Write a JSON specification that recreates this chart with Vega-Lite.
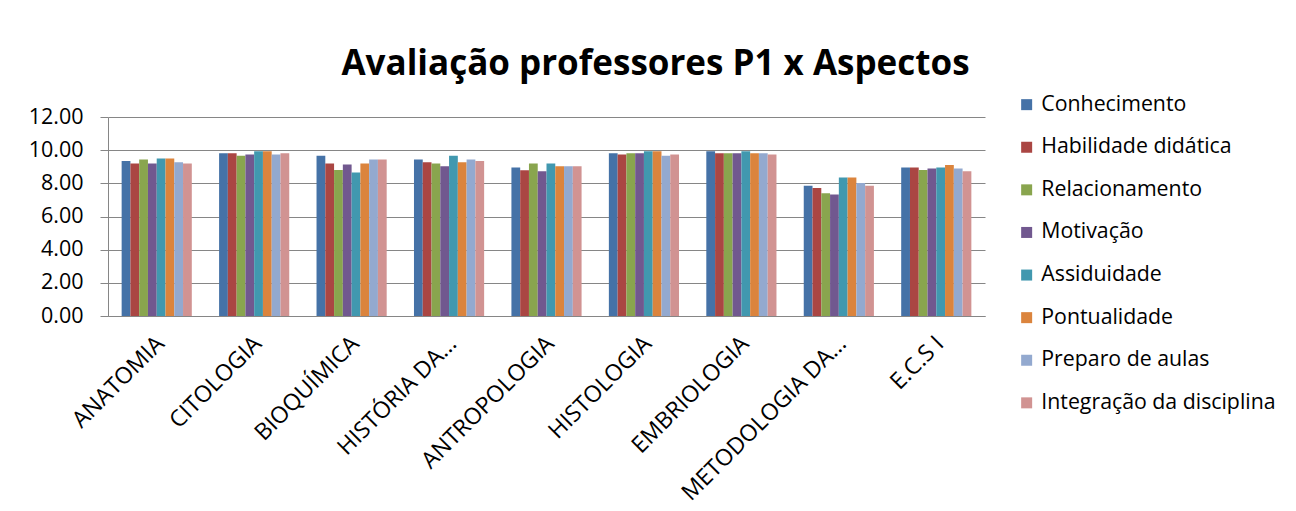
{
  "$schema": "https://vega.github.io/schema/vega-lite/v6.json",
  "autosize": {"type": "none"},
  "width": 877,
  "height": 199,
  "padding": {"left": 108, "top": 117, "right": 311, "bottom": 195},
  "background": "white",
  "config": {
    "font": "Open Sans",
    "view": {"stroke": null},
    "axis": {"labelFont": "Open Sans", "titleFont": "Open Sans"},
    "legend": {"labelFont": "Open Sans"}
  },
  "title": {
    "text": "Avaliação professores P1 x Aspectos",
    "fontSize": 35,
    "fontWeight": "bold",
    "font": "Open Sans",
    "color": "#000000",
    "anchor": "middle",
    "dx": 109,
    "offset": 12
  },
  "datasets": {
    "rows": [
      {"disciplina": "ANATOMIA", "aspecto": "Conhecimento", "nota": 9.35},
      {"disciplina": "ANATOMIA", "aspecto": "Habilidade didática", "nota": 9.19},
      {"disciplina": "ANATOMIA", "aspecto": "Relacionamento", "nota": 9.44},
      {"disciplina": "ANATOMIA", "aspecto": "Motivação", "nota": 9.19},
      {"disciplina": "ANATOMIA", "aspecto": "Assiduidade", "nota": 9.5},
      {"disciplina": "ANATOMIA", "aspecto": "Pontualidade", "nota": 9.5},
      {"disciplina": "ANATOMIA", "aspecto": "Preparo de aulas", "nota": 9.27},
      {"disciplina": "ANATOMIA", "aspecto": "Integração da disciplina", "nota": 9.19},
      {"disciplina": "CITOLOGIA", "aspecto": "Conhecimento", "nota": 9.82},
      {"disciplina": "CITOLOGIA", "aspecto": "Habilidade didática", "nota": 9.82},
      {"disciplina": "CITOLOGIA", "aspecto": "Relacionamento", "nota": 9.66},
      {"disciplina": "CITOLOGIA", "aspecto": "Motivação", "nota": 9.74},
      {"disciplina": "CITOLOGIA", "aspecto": "Assiduidade", "nota": 9.94},
      {"disciplina": "CITOLOGIA", "aspecto": "Pontualidade", "nota": 9.94},
      {"disciplina": "CITOLOGIA", "aspecto": "Preparo de aulas", "nota": 9.74},
      {"disciplina": "CITOLOGIA", "aspecto": "Integração da disciplina", "nota": 9.82},
      {"disciplina": "BIOQUÍMICA", "aspecto": "Conhecimento", "nota": 9.66},
      {"disciplina": "BIOQUÍMICA", "aspecto": "Habilidade didática", "nota": 9.19},
      {"disciplina": "BIOQUÍMICA", "aspecto": "Relacionamento", "nota": 8.81},
      {"disciplina": "BIOQUÍMICA", "aspecto": "Motivação", "nota": 9.13},
      {"disciplina": "BIOQUÍMICA", "aspecto": "Assiduidade", "nota": 8.65},
      {"disciplina": "BIOQUÍMICA", "aspecto": "Pontualidade", "nota": 9.19},
      {"disciplina": "BIOQUÍMICA", "aspecto": "Preparo de aulas", "nota": 9.44},
      {"disciplina": "BIOQUÍMICA", "aspecto": "Integração da disciplina", "nota": 9.44},
      {"disciplina": "HISTÓRIA DA...", "aspecto": "Conhecimento", "nota": 9.44},
      {"disciplina": "HISTÓRIA DA...", "aspecto": "Habilidade didática", "nota": 9.27},
      {"disciplina": "HISTÓRIA DA...", "aspecto": "Relacionamento", "nota": 9.19},
      {"disciplina": "HISTÓRIA DA...", "aspecto": "Motivação", "nota": 9.03},
      {"disciplina": "HISTÓRIA DA...", "aspecto": "Assiduidade", "nota": 9.66},
      {"disciplina": "HISTÓRIA DA...", "aspecto": "Pontualidade", "nota": 9.27},
      {"disciplina": "HISTÓRIA DA...", "aspecto": "Preparo de aulas", "nota": 9.44},
      {"disciplina": "HISTÓRIA DA...", "aspecto": "Integração da disciplina", "nota": 9.35},
      {"disciplina": "ANTROPOLOGIA", "aspecto": "Conhecimento", "nota": 8.95},
      {"disciplina": "ANTROPOLOGIA", "aspecto": "Habilidade didática", "nota": 8.79},
      {"disciplina": "ANTROPOLOGIA", "aspecto": "Relacionamento", "nota": 9.19},
      {"disciplina": "ANTROPOLOGIA", "aspecto": "Motivação", "nota": 8.73},
      {"disciplina": "ANTROPOLOGIA", "aspecto": "Assiduidade", "nota": 9.19},
      {"disciplina": "ANTROPOLOGIA", "aspecto": "Pontualidade", "nota": 9.03},
      {"disciplina": "ANTROPOLOGIA", "aspecto": "Preparo de aulas", "nota": 9.03},
      {"disciplina": "ANTROPOLOGIA", "aspecto": "Integração da disciplina", "nota": 9.03},
      {"disciplina": "HISTOLOGIA", "aspecto": "Conhecimento", "nota": 9.82},
      {"disciplina": "HISTOLOGIA", "aspecto": "Habilidade didática", "nota": 9.74},
      {"disciplina": "HISTOLOGIA", "aspecto": "Relacionamento", "nota": 9.82},
      {"disciplina": "HISTOLOGIA", "aspecto": "Motivação", "nota": 9.82},
      {"disciplina": "HISTOLOGIA", "aspecto": "Assiduidade", "nota": 9.94},
      {"disciplina": "HISTOLOGIA", "aspecto": "Pontualidade", "nota": 9.94},
      {"disciplina": "HISTOLOGIA", "aspecto": "Preparo de aulas", "nota": 9.66},
      {"disciplina": "HISTOLOGIA", "aspecto": "Integração da disciplina", "nota": 9.74},
      {"disciplina": "EMBRIOLOGIA", "aspecto": "Conhecimento", "nota": 9.94},
      {"disciplina": "EMBRIOLOGIA", "aspecto": "Habilidade didática", "nota": 9.82},
      {"disciplina": "EMBRIOLOGIA", "aspecto": "Relacionamento", "nota": 9.82},
      {"disciplina": "EMBRIOLOGIA", "aspecto": "Motivação", "nota": 9.82},
      {"disciplina": "EMBRIOLOGIA", "aspecto": "Assiduidade", "nota": 9.94},
      {"disciplina": "EMBRIOLOGIA", "aspecto": "Pontualidade", "nota": 9.82},
      {"disciplina": "EMBRIOLOGIA", "aspecto": "Preparo de aulas", "nota": 9.82},
      {"disciplina": "EMBRIOLOGIA", "aspecto": "Integração da disciplina", "nota": 9.74},
      {"disciplina": "METODOLOGIA DA...", "aspecto": "Conhecimento", "nota": 7.86},
      {"disciplina": "METODOLOGIA DA...", "aspecto": "Habilidade didática", "nota": 7.72},
      {"disciplina": "METODOLOGIA DA...", "aspecto": "Relacionamento", "nota": 7.4},
      {"disciplina": "METODOLOGIA DA...", "aspecto": "Motivação", "nota": 7.32},
      {"disciplina": "METODOLOGIA DA...", "aspecto": "Assiduidade", "nota": 8.35},
      {"disciplina": "METODOLOGIA DA...", "aspecto": "Pontualidade", "nota": 8.35},
      {"disciplina": "METODOLOGIA DA...", "aspecto": "Preparo de aulas", "nota": 8.02},
      {"disciplina": "METODOLOGIA DA...", "aspecto": "Integração da disciplina", "nota": 7.86},
      {"disciplina": "E.C.S I", "aspecto": "Conhecimento", "nota": 8.95},
      {"disciplina": "E.C.S I", "aspecto": "Habilidade didática", "nota": 8.95},
      {"disciplina": "E.C.S I", "aspecto": "Relacionamento", "nota": 8.81},
      {"disciplina": "E.C.S I", "aspecto": "Motivação", "nota": 8.89},
      {"disciplina": "E.C.S I", "aspecto": "Assiduidade", "nota": 8.95},
      {"disciplina": "E.C.S I", "aspecto": "Pontualidade", "nota": 9.11},
      {"disciplina": "E.C.S I", "aspecto": "Preparo de aulas", "nota": 8.89},
      {"disciplina": "E.C.S I", "aspecto": "Integração da disciplina", "nota": 8.73}
    ]
  },
  "data": {"name": "rows"},
  "mark": {"type": "bar"},
  "encoding": {
    "x": {
      "field": "disciplina",
      "type": "nominal",
      "sort": null,
      "scale": {"paddingInner": 0.28, "paddingOuter": 0.14},
      "axis": {
        "title": null,
        "labelAngle": -45,
        "labelFontSize": 23,
        "labelColor": "#000000",
        "labelPadding": 16,
        "labelOffset": -4,
        "ticks": false,
        "domainColor": "#868686",
        "labelLimit": 300
      }
    },
    "xOffset": {
      "field": "aspecto",
      "type": "nominal",
      "sort": ["Conhecimento", "Habilidade didática", "Relacionamento", "Motivação", "Assiduidade", "Pontualidade", "Preparo de aulas", "Integração da disciplina"],
      "scale": {"paddingInner": 0, "paddingOuter": 0}
    },
    "y": {
      "field": "nota",
      "type": "quantitative",
      "scale": {"domain": [0, 12], "nice": false},
      "axis": {
        "title": null,
        "values": [0, 2, 4, 6, 8, 10, 12],
        "format": ".2f",
        "labelFontSize": 21.5,
        "labelColor": "#000000",
        "labelPadding": 17,
        "tickSize": 8,
        "tickColor": "#868686",
        "gridColor": "#868686",
        "domainColor": "#868686"
      }
    },
    "color": {
      "field": "aspecto",
      "type": "nominal",
      "sort": ["Conhecimento", "Habilidade didática", "Relacionamento", "Motivação", "Assiduidade", "Pontualidade", "Preparo de aulas", "Integração da disciplina"],
      "scale": {
        "domain": ["Conhecimento", "Habilidade didática", "Relacionamento", "Motivação", "Assiduidade", "Pontualidade", "Preparo de aulas", "Integração da disciplina"],
        "range": ["#4572A7", "#AA4643", "#89A54E", "#71588F", "#4198AF", "#DB843D", "#93A9CF", "#D19392"]
      },
      "legend": {
        "title": null,
        "orient": "none",
        "legendX": 908,
        "legendY": -23,
        "symbolType": "square",
        "symbolSize": 121,
        "symbolStrokeWidth": 0,
        "labelFontSize": 21.3,
        "labelColor": "#000000",
        "rowPadding": 20.6,
        "labelOffset": 4,
        "labelLimit": 300
      }
    }
  }
}
